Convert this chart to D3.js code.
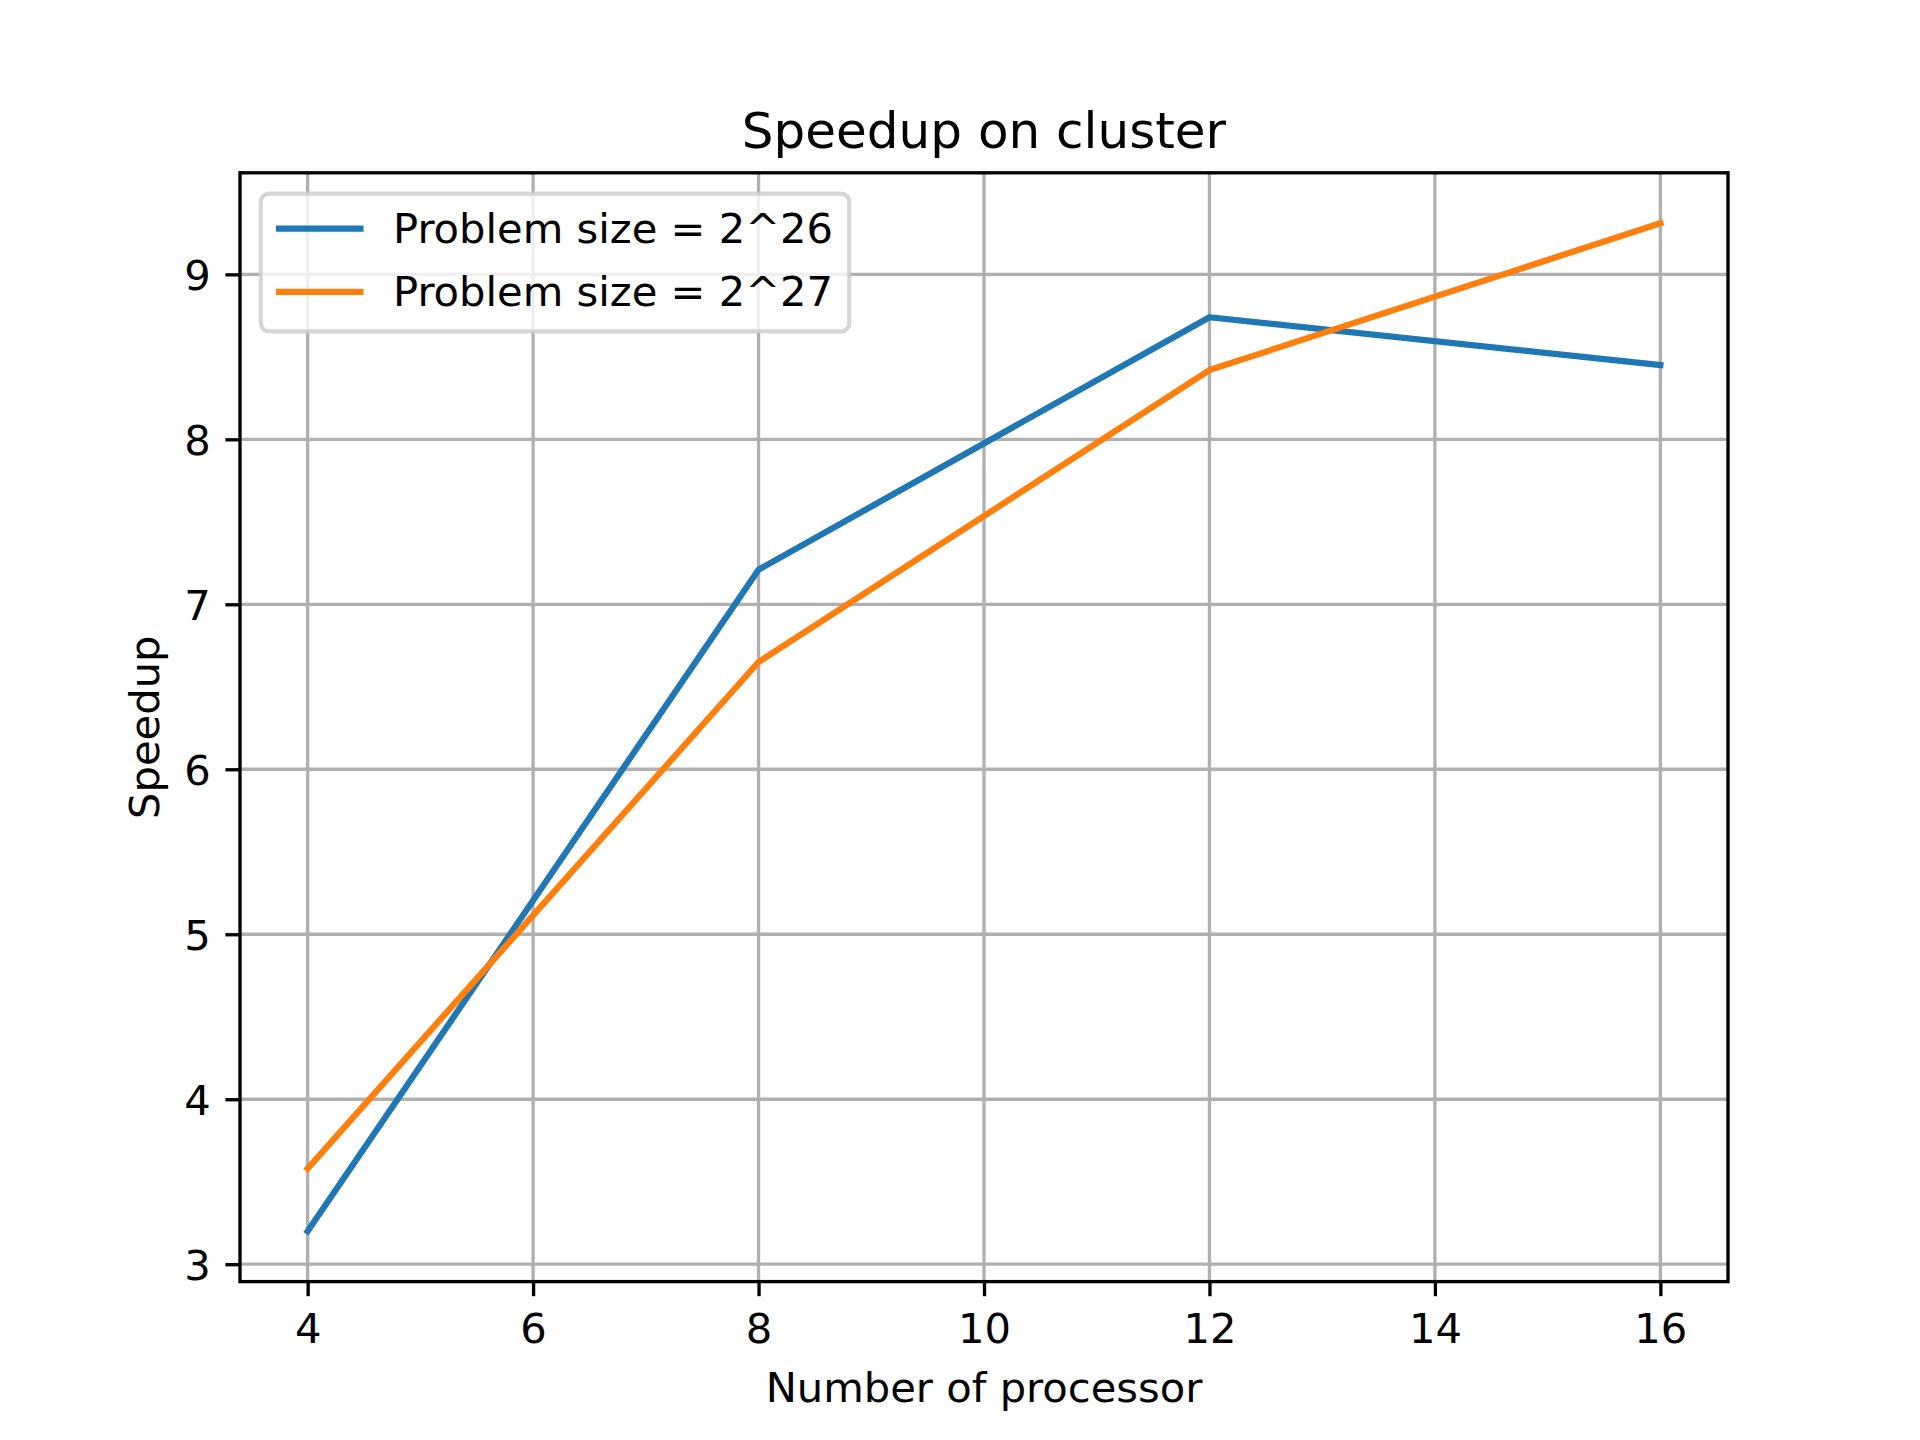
<!DOCTYPE html>
<html>
<head>
<meta charset="utf-8">
<script src="https://cdn.jsdelivr.net/npm/d3@7"></script>
<style>
  html, body { margin: 0; padding: 0; background: #fff; }
  svg text { font-family: "DejaVu Sans", sans-serif; fill: #000; }
</style>
</head>
<body>
<svg id="chart" width="1920" height="1440"></svg>
<script>
// Speedup on cluster - two problem sizes
const processors = [4, 8, 12, 16];
const speedup26 = [3.2, 7.21, 8.74, 8.45];
const speedup27 = [3.58, 6.65, 8.42, 9.31];
const seriesLabels = ["Problem size = 2^26", "Problem size = 2^27"];
const seriesColors = ["#1f77b4", "#ff7f0e"];
const xTicks = [4, 6, 8, 10, 12, 14, 16];
const yTicks = [3, 4, 5, 6, 7, 8, 9];

const svg = d3.select("#chart");
const plotL = 240, plotR = 1728, plotT = 172.8, plotB = 1281.6;
const fs = 41.67;

// matplotlib-style 5% margins
const xMin = d3.min(processors), xMax = d3.max(processors);
const allY = speedup26.concat(speedup27);
const yMin = d3.min(allY), yMax = d3.max(allY);
const xPad = (xMax - xMin) * 0.05, yPad = (yMax - yMin) * 0.05;

const x = d3.scaleLinear().domain([xMin - xPad, xMax + xPad]).range([plotL, plotR]);
const y = d3.scaleLinear().domain([yMin - yPad, yMax + yPad]).range([plotB, plotT]);

// grid
const grid = svg.append("g");
grid.selectAll("line.gx").data(xTicks).join("line").attr("class", "gx")
    .attr("x1", d => x(d)).attr("x2", d => x(d))
    .attr("y1", plotT).attr("y2", plotB)
    .attr("stroke", "#b0b0b0").attr("stroke-width", 3.33);
grid.selectAll("line.gy").data(yTicks).join("line").attr("class", "gy")
    .attr("x1", plotL).attr("x2", plotR)
    .attr("y1", d => y(d)).attr("y2", d => y(d))
    .attr("stroke", "#b0b0b0").attr("stroke-width", 3.33);

// lines
const series = [speedup26, speedup27];
const line = d3.line().x((d, i) => x(processors[i])).y(d => y(d));
svg.append("g").selectAll("path").data(series).join("path")
    .attr("d", d => line(d))
    .attr("fill", "none")
    .attr("stroke", (d, i) => seriesColors[i])
    .attr("stroke-width", 6.25)
    .attr("stroke-linecap", "square")
    .attr("stroke-linejoin", "round");

// axes with d3 axis generators, restyled like matplotlib
const xAxis = svg.append("g").attr("transform", `translate(0,${plotB})`)
    .call(d3.axisBottom(x).tickValues(xTicks).tickSize(14.6).tickPadding(14.6).tickFormat(d3.format("d")));
const yAxis = svg.append("g").attr("transform", `translate(${plotL},0)`)
    .call(d3.axisLeft(y).tickValues(yTicks).tickSize(14.6).tickPadding(14.6).tickFormat(d3.format("d")));
[xAxis, yAxis].forEach(ax => {
    ax.select(".domain").remove();
    ax.selectAll(".tick line").attr("stroke", "#000").attr("stroke-width", 3.33);
    ax.selectAll(".tick text").style("font-size", fs + "px").attr("fill", "#000")
        .style("font-family", "'DejaVu Sans', sans-serif");
});
xAxis.selectAll(".tick text").attr("dy", null).attr("y", 61.7);
yAxis.selectAll(".tick text").attr("dy", "0.36em").attr("x", -29.2);

// spines
svg.append("rect")
    .attr("x", plotL).attr("y", plotT)
    .attr("width", plotR - plotL).attr("height", plotB - plotT)
    .attr("fill", "none").attr("stroke", "#000").attr("stroke-width", 3.33)
    .attr("stroke-linejoin", "miter");

// title and labels
svg.append("text").attr("x", (plotL + plotR) / 2).attr("y", 148.3)
    .attr("text-anchor", "middle").style("font-size", "50px").text("Speedup on cluster");
svg.append("text").attr("x", (plotL + plotR) / 2).attr("y", 1401.7)
    .attr("text-anchor", "middle").style("font-size", fs + "px").text("Number of processor");
svg.append("text")
    .attr("transform", `translate(158.5,${(plotT + plotB) / 2}) rotate(-90)`)
    .attr("text-anchor", "middle").style("font-size", fs + "px").text("Speedup");

// legend
const legend = svg.append("g");
legend.append("rect")
    .attr("x", 260.8).attr("y", 193.6)
    .attr("width", 588.5).attr("height", 137.8)
    .attr("rx", 8.3).attr("ry", 8.3)
    .attr("fill", "#fff").attr("fill-opacity", 0.8)
    .attr("stroke", "#cccccc").attr("stroke-opacity", 0.8).attr("stroke-width", 4.17);
const items = legend.selectAll("g.item").data(seriesLabels).join("g").attr("class", "item")
    .attr("transform", (d, i) => `translate(0,${228.7 + i * 63.2})`);
items.append("line")
    .attr("x1", 276).attr("x2", 363.5).attr("y1", 0).attr("y2", 0)
    .attr("stroke", (d, i) => seriesColors[i]).attr("stroke-width", 6.25);
items.append("text")
    .attr("x", 393).attr("y", 14)
    .style("font-size", fs + "px").text(d => d);
</script>
</body>
</html>
